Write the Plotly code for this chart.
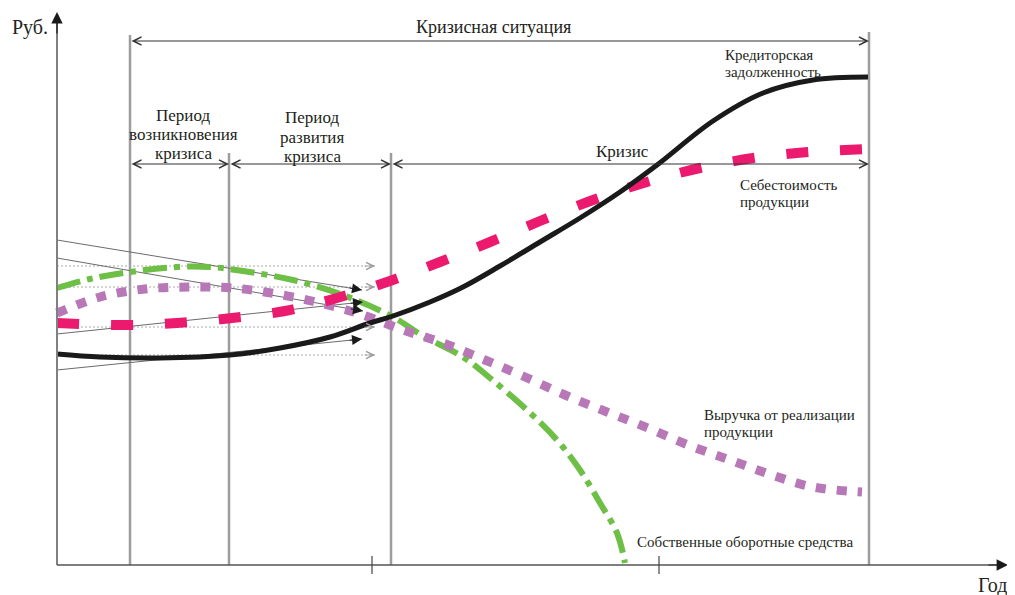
import numpy as np
import plotly.graph_objects as go

# ---------------- data (t = time units, r = roubles units) ----------------
credit_t = [0, 43, 103, 173, 223, 273, 313, 336, 373, 406, 443, 483, 523, 563, 600, 656, 706, 756, 811]
credit_r = [211, 208, 207, 210, 217, 228, 242, 249, 263, 278, 299, 323, 347, 373, 400, 444, 472, 485, 488]

cost_t = [0, 65, 120, 175, 228, 280, 333, 383, 433, 483, 536, 590, 643, 696, 751, 811]
cost_r = [242, 240, 242, 247, 254, 267, 284, 303, 323, 344, 365, 383, 397, 407, 413, 416]

revenue_t = [0, 43, 88, 133, 176, 220, 263, 303, 346, 386, 428, 468, 508, 550, 591, 631, 673, 715, 756, 805]
revenue_r = [252, 268, 276, 278, 277, 271, 262, 251, 235, 222, 205, 188, 170, 153, 137, 120, 105, 90, 78, 73]

capital_t = [0, 33, 73, 120, 153, 186, 236, 286, 336, 366, 406, 433, 470, 500, 523, 543, 560, 568]
capital_r = [277, 286, 293, 298, 298, 294, 285, 270, 248, 229, 208, 187, 155, 125, 95, 62, 32, 2]

# thin trend lines (start -> end)
trend_start_r = [325, 307, 231, 195]
trend_end_t = [305, 306, 306, 305]
trend_end_r = [275, 254, 263, 226]

# dotted reference levels
level_r = [299, 278, 238, 210]
level_end_t = 318

# phase boundaries
bound_t = [73, 172, 334, 812]
bound_top = [530, 412, 412, 533]
tick_t = [315, 602]

axis_y_label = "Руб."
axis_x_label = "Год"
top_label = "Кризисная ситуация"
period1_lines = ["Период", "возникновения", "кризиса"]
period2_lines = ["Период", "развития", "кризиса"]
crisis_label = "Кризис"
credit_lines = ["Кредиторская", "задолженность"]
cost_lines = ["Себестоимость", "продукции"]
revenue_lines = ["Выручка от реализации", "продукции"]
capital_label = "Собственные оборотные средства"

# ---------------- styles ----------------
FONT = "Liberation Serif, Times New Roman, serif"
TXT = "#231f20"
GRAY = "#9d9d9d"

fig = go.Figure()

# vertical phase lines
for t, top in zip(bound_t, bound_top):
    fig.add_trace(go.Scatter(x=[t, t], y=[0, top], mode="lines",
                             line=dict(color=GRAY, width=2.5), hoverinfo="skip"))

# dotted levels
for r in level_r:
    fig.add_trace(go.Scatter(x=[0, level_end_t], y=[r, r], mode="lines",
                             line=dict(color="#aaaaaa", width=1, dash="2px,2px"), hoverinfo="skip"))

# thin trend lines
for r0, t1, r1 in zip(trend_start_r, trend_end_t, trend_end_r):
    fig.add_trace(go.Scatter(x=[0, t1], y=[r0, r1], mode="lines",
                             line=dict(color="#6b6b6b", width=1), hoverinfo="skip"))

# main curves
fig.add_trace(go.Scatter(x=capital_t, y=capital_r, mode="lines", line_shape="spline",
                         line=dict(color="#6dbf45", width=6, dash="24px,7px,6px,7px"), hoverinfo="skip"))
fig.add_trace(go.Scatter(x=revenue_t, y=revenue_r, mode="lines", line_shape="spline",
                         line=dict(color="#b878b8", width=9, dash="10px,11px"), hoverinfo="skip"))
fig.add_trace(go.Scatter(x=cost_t, y=cost_r, mode="lines", line_shape="spline",
                         line=dict(color="#ec1a6e", width=10, dash="22px,32px"), hoverinfo="skip"))
fig.add_trace(go.Scatter(x=credit_t, y=credit_r, mode="lines", line_shape="spline",
                         line=dict(color="#1a1a1a", width=5), hoverinfo="skip"))

# axes lines
fig.add_trace(go.Scatter(x=[0, 0], y=[0, 545], mode="lines",
                         line=dict(color="#808080", width=2), hoverinfo="skip"))
fig.add_trace(go.Scatter(x=[0, 945], y=[0, 0], mode="lines",
                         line=dict(color="#555555", width=1.5), hoverinfo="skip"))
for t in tick_t:
    fig.add_trace(go.Scatter(x=[t, t], y=[-9, 9], mode="lines",
                             line=dict(color="#444444", width=1.2), hoverinfo="skip"))

ann = []


def arrow(x, y, ax, ay, head=2, width=1.0, size=2.0, color=TXT, both=False):
    d = dict(x=x, y=y, ax=ax, ay=ay, xref="x", yref="y", axref="x", ayref="y",
             text="", showarrow=True, arrowhead=head, arrowwidth=width,
             arrowsize=size, arrowcolor=color, standoff=0, startstandoff=0)
    if both:
        d.update(arrowside="end+start", startarrowhead=head, startarrowsize=size)
    ann.append(d)


# axis heads
arrow(0, 553, 0, 530, head=2, width=1.2, size=1.9, color="#1a1a1a")
arrow(951, 0, 930, 0, head=2, width=1.2, size=1.9, color="#1a1a1a")

# heads of thin trend lines
for r0, t1, r1 in zip(trend_start_r, trend_end_t, trend_end_r):
    v = np.array([t1 - 0.0, r1 - r0])
    v = v / np.linalg.norm(v)
    arrow(t1, r1, t1 - 14 * v[0], r1 - 14 * v[1], head=2, width=1, size=2.0, color="#1a1a1a")

# open heads of dotted levels
for r in level_r:
    arrow(level_end_t, r, level_end_t - 12, r, head=5, width=0.8, size=1.8, color="#999999")

# double arrows
arrow(bound_t[3], 524, bound_t[0], 524, head=5, width=1.2, size=1.35, color="#333333", both=True)
arrow(bound_t[1], 401, bound_t[0], 401, head=5, width=1.2, size=1.35, color="#333333", both=True)
arrow(bound_t[2], 401, bound_t[1], 401, head=5, width=1.2, size=1.35, color="#333333", both=True)
arrow(bound_t[3], 401, bound_t[2], 401, head=5, width=1.2, size=1.35, color="#333333", both=True)


def label(text, x, y, size, anchor="center"):
    ann.append(dict(x=x, y=y, xref="x", yref="y", text=text, showarrow=False,
                    xanchor=anchor, yanchor="middle",
                    font=dict(family=FONT, size=size, color=TXT)))


label(axis_y_label, -27, 538, 20)
label(axis_x_label, 935, -20, 20)
label(top_label, 436, 538, 18)
for line, r in zip(period1_lines, [450, 431, 412]):
    label(line, 126, r, 17)
for line, r in zip(period2_lines, [448, 428, 409]):
    label(line, 255, r, 17)
label(crisis_label, 565, 414, 17)
for line, r in zip(credit_lines, [510, 493]):
    label(line, 666, r, 15, "left")
for line, r in zip(cost_lines, [380, 363]):
    label(line, 681, r, 15, "left")
for line, r in zip(revenue_lines, [150, 133]):
    label(line, 645, r, 15, "left")
label(capital_label, 578, 23, 15, "left")

# page body adds an 8px offset; figure is sized/ranged to compensate
fig.update_layout(
    width=1007, height=587,
    margin=dict(l=0, r=0, t=0, b=0),
    paper_bgcolor="white", plot_bgcolor="white",
    showlegend=False,
    xaxis=dict(range=[-49, 958], visible=False, fixedrange=True),
    yaxis=dict(range=[-30, 557], visible=False, fixedrange=True),
    annotations=ann,
)

fig.write_html("out.html")
